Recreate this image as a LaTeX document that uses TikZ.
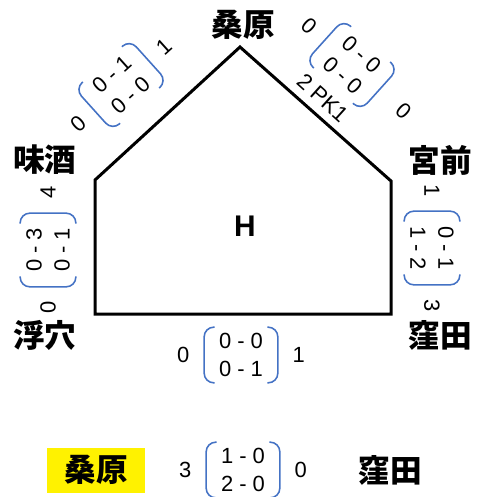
\documentclass[tikz,border=0pt]{standalone}
\usepackage{fontspec}
\setmainfont{Liberation Sans}
\newfontfamily\jpfont{Noto Sans CJK JP}
\usetikzlibrary{positioning}
\definecolor{bracketblue}{RGB}{68,114,196}

\newcommand{\scorecard}[8][0.29cm]{%
  \begin{scope}[shift={#2}, rotate=#3, transform shape]
    \node[pair] (#8) at (0,0) {#5\\#6};
    \draw[bracket] ([xshift=6pt]#8.north west) -- (#8.north west)
      -- (#8.south west) -- ([xshift=6pt]#8.south west);
    \draw[bracket] ([xshift=-6pt]#8.north east) -- (#8.north east)
      -- (#8.south east) -- ([xshift=-6pt]#8.south east);
    \node[score, left=0.29cm of #8] (#8-l) {#4};
    \node[score, right=#1 of #8] (#8-r) {#7};
  \end{scope}}

\begin{document}
\begin{tikzpicture}[x=0.02cm, y=-0.02cm,
      station/.style = {font=\jpfont\bfseries\fontsize{18}{20}\selectfont, inner sep=1pt},
      score/.style = {font=\fontsize{12.5}{16}\selectfont, inner sep=0pt},
      pair/.style = {font=\fontsize{12.5}{16}\selectfont, align=center, inner sep=0pt,
        minimum width=1.46cm, minimum height=1.1cm},
      bracket/.style = {draw=bracketblue, line width=0.9pt, rounded corners=5.5pt},
      plate/.style = {line width=0.06cm}]
    \useasboundingbox (0,0) rectangle (481,497);
    \draw[plate] (240,47) -- (391,181) -- (391,314) -- (95,314) -- (95,180) -- cycle;
    \node[font=\bfseries\fontsize{17}{17}\selectfont] (home) at (245,226) {H};
    \node[station] (kuwabara) at (243,25) {桑原};
    \node[station] (misake) at (45,160) {味酒};
    \node[station] (miyamae) at (440,160) {宮前};
    \node[station] (ukena) at (45,335) {浮穴};
    \node[station] (kubota) at (440,335) {窪田};
    \scorecard{(121,85)}{42}{0}{0 - 1}{0 - 0}{1}{upleft}
    \scorecard[0.52cm]{(352,65)}{-42}{0}{0 - 0}{0 - 0}{0}{upright}
    \begin{scope}[shift={(352,65)}, rotate=-42, transform shape]
      \node[score, below=0.16cm of upright] (pk) {2 PK1};
    \end{scope}
    \scorecard{(48,250)}{90}{0}{0 - 3}{0 - 1}{4}{left}
    \scorecard{(432,248)}{-90}{1}{0 - 1}{1 - 2}{3}{right}
    \scorecard{(241,355)}{0}{0}{0 - 0}{0 - 1}{1}{bottom}
    \node[station, fill=yellow, minimum width=1.96cm, minimum height=0.9cm] (winner) at (96,470) {桑原};
    \node[station] (loser) at (390,470) {窪田};
    \scorecard{(243,470)}{0}{3}{1 - 0}{2 - 0}{0}{final}
\end{tikzpicture}
\end{document}
